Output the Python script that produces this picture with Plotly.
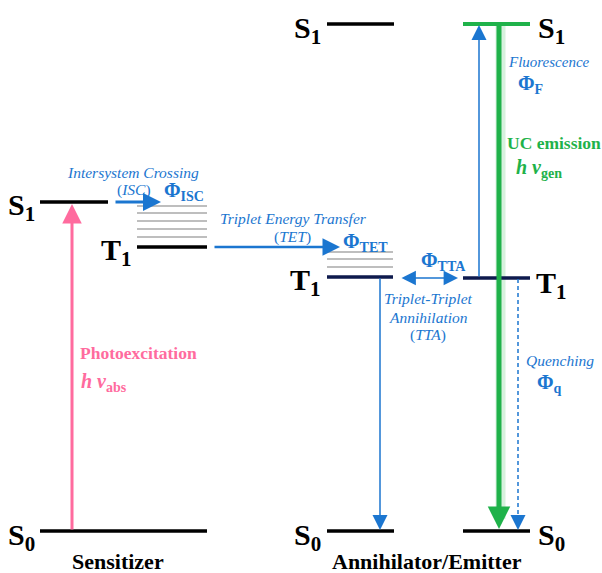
import plotly.graph_objects as go

BLUE = "#1b76d0"
PINK = "#ff6b9e"
GREEN = "#1fb24a"
NAVY = "#0e1a4d"
GRAY = "#a8a8a8"
SERIF = "Liberation Serif"

# ---- energy levels (diagram coordinates) ----
level_x0 = [40, 137, 40, 327, 327, 327, 463, 463, 463]
level_x1 = [108, 207, 207, 394, 393, 394, 530, 530, 530]
level_y = [202, 247, 531, 24, 277, 531, 24, 278, 531]
level_col = ["black", "black", "black", "black", NAVY, "black", GREEN, NAVY, "black"]
level_w = [3.5, 3.5, 3.5, 3.5, 3.5, 3.5, 4, 3.5, 3.5]

# vibrational sublevels
vib_sens_y = [206, 213, 221, 229, 237]
vib_sens_x = [137, 207]
vib_ann_y = [252, 259, 267]
vib_ann_x = [327, 393]

# level labels
lab_text = ["S<sub>1</sub>", "T<sub>1</sub>", "S<sub>0</sub>", "S<sub>1</sub>", "T<sub>1</sub>",
            "S<sub>0</sub>", "S<sub>1</sub>", "T<sub>1</sub>", "S<sub>0</sub>"]
lab_x = [37, 134, 37, 323, 323, 323, 536, 534, 536]
lab_y = [207, 252, 537, 30, 282, 537, 30, 285, 537]
lab_anchor = ["right", "right", "right", "right", "right", "right", "left", "left", "left"]

# transitions: tail (x, y) -> head (x, y)
arr_x0 = [72, 114, 213, 400, 380, 479, 499]
arr_y0 = [531, 202, 247, 278, 277, 278, 24]
arr_x1 = [72, 161, 340, 458, 380, 479, 499]
arr_y1 = [204, 202, 247, 278, 530, 25, 529]
arr_col = [PINK, BLUE, BLUE, BLUE, BLUE, BLUE, GREEN]
arr_w = [3, 3, 2.5, 1.6, 1.5, 1.5, 5]
arr_side = ["end", "end", "end", "end+start", "end", "end", "end"]
arr_size = [1.3, 1.2, 1.4, 1.8, 2.0, 2.0, 0.9]

# quenching (dashed)
q_x = [518, 518]
q_y = [279, 516]
q_head = [518, 530]

fig = go.Figure()

# glow behind UC emission
fig.add_trace(go.Scatter(x=[arr_x0[6] + 1.5, arr_x1[6] + 1.5], y=[arr_y0[6], arr_y1[6] - 10],
                         mode="lines", line=dict(color="rgba(31,178,74,0.18)", width=10),
                         hoverinfo="skip", showlegend=False))

for y in vib_sens_y:
    fig.add_trace(go.Scatter(x=vib_sens_x, y=[y, y], mode="lines",
                             line=dict(color=GRAY, width=1.4), hoverinfo="skip", showlegend=False))
for y in vib_ann_y:
    fig.add_trace(go.Scatter(x=vib_ann_x, y=[y, y], mode="lines",
                             line=dict(color=GRAY, width=1.4), hoverinfo="skip", showlegend=False))

for x0, x1, y, c, w in zip(level_x0, level_x1, level_y, level_col, level_w):
    fig.add_trace(go.Scatter(x=[x0, x1], y=[y, y], mode="lines",
                             line=dict(color=c, width=w), hoverinfo="skip", showlegend=False))

fig.add_trace(go.Scatter(x=q_x, y=q_y, mode="lines",
                         line=dict(color=BLUE, width=1.5, dash="4px,3px"),
                         hoverinfo="skip", showlegend=False))

for x0, y0, x1, y1, c, w, s, sz in zip(arr_x0, arr_y0, arr_x1, arr_y1, arr_col, arr_w, arr_side, arr_size):
    fig.add_annotation(x=x1, y=y1, ax=x0, ay=y0, xref="x", yref="y", axref="x", ayref="y",
                       text="", showarrow=True, arrowhead=2, arrowside=s, arrowsize=sz,
                       arrowwidth=w, arrowcolor=c, standoff=0, startstandoff=0)
fig.add_annotation(x=q_head[0], y=q_head[1], ax=q_x[1], ay=q_y[1] - 2, xref="x", yref="y",
                   axref="x", ayref="y", text="", showarrow=True, arrowhead=2, arrowsize=2,
                   arrowwidth=1.5, arrowcolor=BLUE, standoff=0)

for t, x, y, a in zip(lab_text, lab_x, lab_y, lab_anchor):
    fig.add_annotation(x=x, y=y, text="<b>" + t + "</b>", showarrow=False, xanchor=a,
                       yanchor="middle", font=dict(family=SERIF, size=30, color="black"))


def txt(x, y, t, size, color, anchor="center"):
    fig.add_annotation(x=x, y=y, text=t, showarrow=False, xanchor=anchor, yanchor="middle",
                       font=dict(family=SERIF, size=size, color=color))


txt(133, 172, "<i>Intersystem Crossing</i>", 15.5, BLUE)
txt(134, 190, "(<i>ISC</i>)", 15.5, BLUE)
txt(162, 191, "<b>Φ<sub>ISC</sub></b>", 20, BLUE, "left")
txt(293, 218, "<i>Triplet Energy Transfer</i>", 15.5, BLUE)
txt(292, 237, "(<i>TET</i>)", 15.5, BLUE)
txt(341, 242, "<b>Φ<sub>TET</sub></b>", 20, BLUE, "left")
txt(419, 261, "<b>Φ<sub>TTA</sub></b>", 20, BLUE, "left")
txt(428, 298, "<i>Triplet-Triplet</i>", 15.5, BLUE)
txt(428, 317, "<i>Annihilation</i>", 15.5, BLUE)
txt(428, 335, "(<i>TTA</i>)", 15.5, BLUE)
txt(506, 62, "<i>Fluorescence</i>", 15, BLUE, "left")
txt(516, 84, "<b>Φ<sub>F</sub></b>", 20, BLUE, "left")
txt(505, 143, "<b>UC emission</b>", 17.5, GREEN, "left")
txt(514, 168, "<b><i>h ν</i><sub>gen</sub></b>", 20, GREEN, "left")
txt(524, 360, "<i>Quenching</i>", 15.5, BLUE, "left")
txt(535, 383, "<b>Φ<sub>q</sub></b>", 20, BLUE, "left")
txt(78, 353, "<b>Photoexcitation</b>", 17.5, PINK, "left")
txt(79, 382, "<b><i>h ν</i><sub>abs</sub></b>", 20, PINK, "left")
txt(118, 561, "<b>Sensitizer</b>", 22, "black")
txt(427, 561, "<b>Annihilator/Emitter</b>", 22, "black")

fig.update_layout(
    width=602, height=573, margin=dict(l=0, r=0, t=0, b=0),
    font=dict(family=SERIF),
    paper_bgcolor="white", plot_bgcolor="white",
    xaxis=dict(range=[0, 602], visible=False, fixedrange=True),
    yaxis=dict(range=[573, 0], visible=False, fixedrange=True),
    showlegend=False,
)
fig.write_html("out.html", config={"displayModeBar": False},
               post_script="document.body.style.margin='0';document.body.style.overflow='hidden';")
